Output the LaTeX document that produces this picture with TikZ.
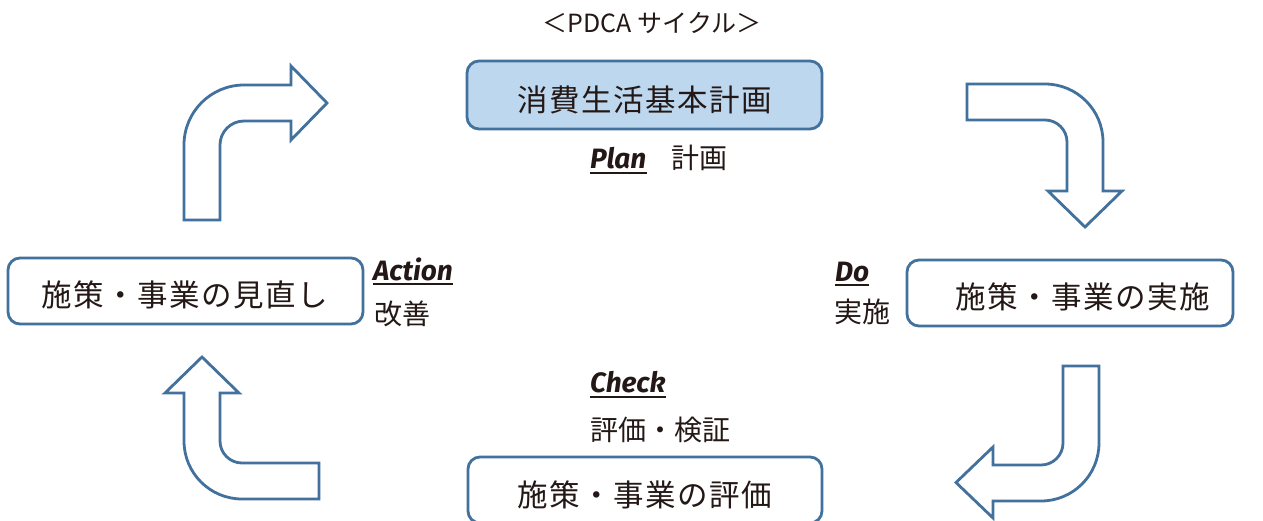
\documentclass[tikz,border=0pt]{standalone}
\usepackage{fontspec}
\setmainfont{Noto Sans CJK JP}
\newfontfamily\jpbox[LetterSpace=5]{Noto Sans CJK JP}
\newfontfamily\jplab{Noto Sans CJK JP}
\newfontfamily\lat{Fira Sans}
\definecolor{edgeblue}{HTML}{41719C}
\definecolor{planfill}{HTML}{BDD7EE}
\definecolor{ink}{HTML}{231815}
\tikzset{
  stagebox/.style={draw=edgeblue, line width=2.8pt, rounded corners=12pt, fill=white, minimum height=66pt},
  stagetext/.style={text=ink, inner sep=0pt, font=\jpbox\fontsize{30.5}{36}\selectfont},
  phase/.style={text=ink, inner sep=0pt, font=\lat\bfseries\itshape\fontsize{28}{32}\selectfont},
  phasejp/.style={text=ink, inner sep=0pt, font=\jplab\fontsize{28}{32}\selectfont},
  uline/.style={draw=ink, line width=2pt},
  bentarrow/.style={draw=edgeblue, line width=2.8pt, fill=white, line join=miter}
}
\begin{document}
\begin{tikzpicture}[x=1pt,y=-1pt]
\clip (0,0) rectangle (1263,520);
\fill[white] (0,0) rectangle (1263,520);

% title
\node[text=ink, inner sep=0pt, font=\jplab\fontsize{25}{30}\selectfont] (title) at (652,23) {＜PDCA サイクル＞};

% boxes
\node[stagebox, fill=planfill, minimum width=355pt, minimum height=68pt] (plan) at (644.5,95) {};
\node[stagetext] (plantext) at ([yshift=-5pt]plan.center) {消費生活基本計画};

\node[stagebox, minimum width=326pt] (do) at (1070,293) {};
\node[stagetext] (dotext) at ([xshift=13pt,yshift=-4pt]do.center) {施策・事業の実施};

\node[stagebox, minimum width=354pt] (check) at (645,490) {};
\node[stagetext] (checktext) at ([yshift=-5pt]check.center) {施策・事業の評価};

\node[stagebox, minimum width=355pt] (action) at (185.5,291) {};
\node[stagetext] (actiontext) at ([xshift=-1pt,yshift=-4pt]action.center) {施策・事業の見直し};

% phase labels
\node[phase, anchor=base west] (planlab) at (590,168) {Plan};
\draw[uline] ([yshift=-4.5pt]planlab.base west) -- ([yshift=-4.5pt]planlab.base east);
\node[phasejp, anchor=west] (planjp) at (671,158) {計画};

\node[phase, anchor=base west] (dolab) at (835,281) {Do};
\draw[uline] ([yshift=-4pt]dolab.base west) -- ([yshift=-4pt]dolab.base east);
\node[phasejp, anchor=west] (dojp) at (834,312) {実施};

\node[phase, anchor=base west] (actlab) at (373,280) {Action};
\draw[uline] ([yshift=-4pt]actlab.base west) -- ([yshift=-4pt]actlab.base east);
\node[phasejp, anchor=west] (actjp) at (374,314) {改善};

\node[phase, anchor=base west] (checklab) at (590,392) {Check};
\draw[uline] ([yshift=-4.5pt]checklab.base west) -- ([yshift=-4.5pt]checklab.base east);
\node[phasejp, anchor=west] (checkjp) at (590,430) {評価・検証};

% bent arrows
% top-left (Action -> Plan)
\draw[bentarrow] (184,220) -- (184,145) arc[start angle=180, end angle=270, radius=60]
  -- (291,85) -- (291,66) -- (327,103) -- (291,140) -- (291,121)
  -- (244,121) arc[start angle=270, end angle=180, radius=24] -- (220,220) -- cycle;
% top-right (Plan -> Do)
\draw[bentarrow] (967,84) -- (1045,84) arc[start angle=270, end angle=360, radius=58]
  -- (1103,191) -- (1122,191) -- (1085,227) -- (1048,191) -- (1067,191)
  -- (1067,142) arc[start angle=0, end angle=-90, radius=22] -- (967,120) -- cycle;
% bottom-right (Do -> Check)
\draw[bentarrow] (1063,366) -- (1099,366) -- (1099,443) arc[start angle=0, end angle=90, radius=58]
  -- (993,501) -- (993,518) -- (956,482.5) -- (993,447) -- (993,465)
  -- (1041,465) arc[start angle=90, end angle=0, radius=22] -- cycle;
% bottom-left (Check -> Action)
\draw[bentarrow] (184,393) -- (184,441) arc[start angle=180, end angle=90, radius=58]
  -- (319,499) -- (319,463) -- (242,463) arc[start angle=90, end angle=180, radius=22]
  -- (220,393) -- (239,393) -- (202,357) -- (165,393) -- cycle;
\end{tikzpicture}
\end{document}
